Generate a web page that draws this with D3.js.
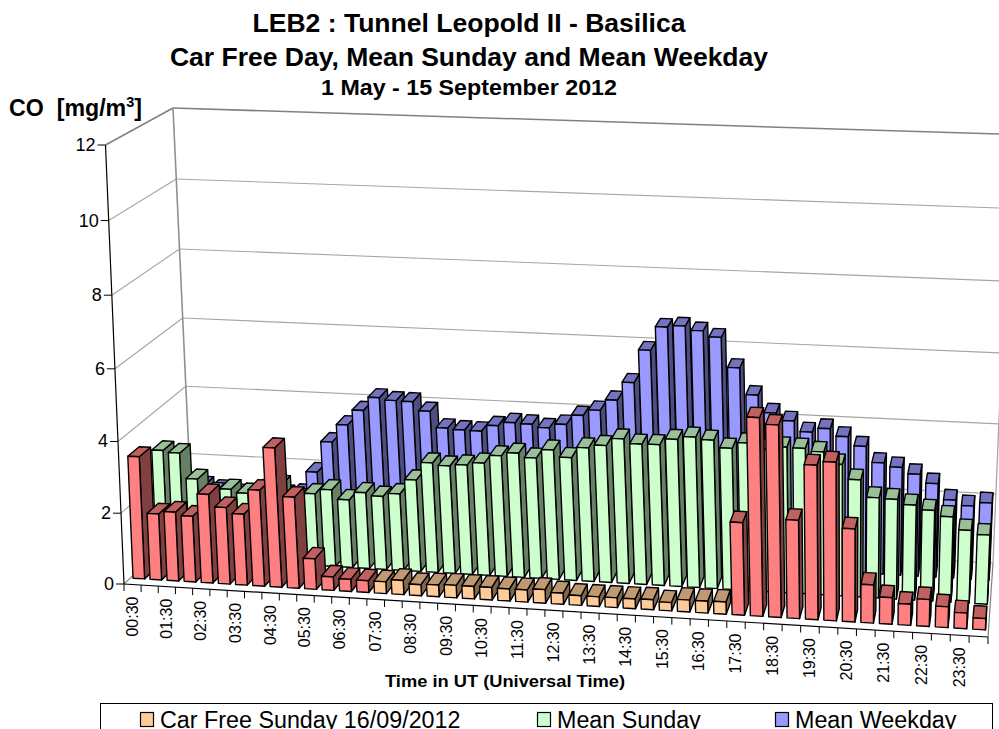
<!DOCTYPE html>
<html><head><meta charset="utf-8">
<style>html,body{margin:0;padding:0;background:#fff;overflow:hidden}svg{display:block}text{font-family:"Liberation Sans",Arial,sans-serif;fill:#000}</style>
<script src="https://cdn.jsdelivr.net/npm/d3@7"></script></head><body>
<svg id="c" width="999" height="729"></svg>
<script>
const times = ["00:30","01:00","01:30","02:00","02:30","03:00","03:30","04:00","04:30","05:00","05:30","06:00","06:30","07:00","07:30","08:00","08:30","09:00","09:30","10:00","10:30","11:00","11:30","12:00","12:30","13:00","13:30","14:00","14:30","15:00","15:30","16:00","16:30","17:00","17:30","18:00","18:30","19:00","19:30","20:00","20:30","21:00","21:30","22:00","22:30","23:00","23:30","24:00"];
const carFree = [3.45,1.87,1.95,1.86,2.50,2.16,2.00,2.70,3.90,2.56,0.86,0.38,0.34,0.33,0.33,0.40,0.31,0.33,0.35,0.35,0.35,0.34,0.34,0.38,0.31,0.27,0.27,0.27,0.27,0.28,0.23,0.33,0.33,0.34,2.55,5.42,5.25,2.70,4.22,4.33,2.55,1.05,0.73,0.58,0.74,0.57,0.43,0.31];
const meanSunday = [3.07,3.02,2.30,1.94,2.06,1.97,2.10,2.25,1.90,2.06,2.20,1.94,2.17,2.09,2.19,2.61,3.12,3.06,3.11,3.19,3.42,3.52,3.41,3.66,3.47,3.77,3.86,4.07,3.95,3.96,4.13,4.22,4.16,3.96,4.13,3.98,4.07,4.06,3.99,3.67,3.27,2.80,2.78,2.65,2.53,2.38,2.03,1.93];
const meanWeekday = [1.60,1.50,1.42,1.32,1.32,1.32,1.37,1.42,2.08,2.98,3.50,3.94,4.33,4.27,4.26,4.01,3.55,3.52,3.51,3.69,3.80,3.78,3.70,3.82,4.10,4.27,4.58,5.10,6.03,6.70,6.75,6.64,6.48,5.65,4.91,4.43,4.23,3.94,4.06,3.86,3.61,3.17,3.07,2.90,2.66,2.22,2.08,2.19];
const orangeFrom = "07:30", orangeTo = "17:00";
const yTicks = [0,2,4,6,8,10,12];
const xLabels = times.filter((d,i)=>i%2===0);
const titles = ["LEB2 : Tunnel Leopold II - Basilica","Car Free Day, Mean Sunday and Mean Weekday","1 May - 15 September 2012"];
const legendItems = ["Car Free Sunday 16/09/2012","Mean Sunday","Mean Weekday"];
const rowsOrder = ["front","mid","back"];

const pal = {
 red:["#FF8080","#804040","#C06060"], orange:["#FFCC99","#80664D","#C09973"],
 green:["#CCFFCC","#668066","#99C099"], blue:["#9999FF","#4D4D80","#7373C0"]
};

// camera: corners of the 3D box as seen on the page (front-left, front-right, back-right, back-left)
const floorQuad=[[124,584],[988,637],[993,563],[192,520]];
const topQuad=[[105.5,145],[1004,181],[1011,134.5],[173,108]];
function homography(q){
 const [[x0,y0],[x1,y1],[x2,y2],[x3,y3]]=q;
 const dx1=x1-x2,dx2=x3-x2,sx=x0-x1+x2-x3,dy1=y1-y2,dy2=y3-y2,sy=y0-y1+y2-y3;
 const den=dx1*dy2-dx2*dy1,g=(sx*dy2-dx2*sy)/den,h=(dx1*sy-sx*dy1)/den;
 const a=x1-x0+g*x1,b=x3-x0+h*x3,d=y1-y0+g*y1,e=y3-y0+h*y3;
 return (u,v)=>{const w=g*u+h*v+1;return[(a*u+b*v+x0)/w,(d*u+e*v+y0)/w];};
}
const hF=homography(floorQuad),hT=homography(topQuad);
const valueScale=d3.scaleLinear().domain([0,12]).range([0,1]);
function P(u0,v,val){
 const u=u0+.042*u0*(1-u0);
 const t0=valueScale(val),t=t0/(t0+(1-t0)*1.04);
 const a=hF(u,v),b=hT(u,v);
 return[a[0]+(b[0]-a[0])*t,a[1]+(b[1]-a[1])*t];
}
const xBand=d3.scaleBand().domain(times).range([0,1]).paddingInner(.32).paddingOuter(.16);
const zBand=d3.scaleBand().domain(rowsOrder).range([0,1]).paddingInner(.52).paddingOuter(.26);
const step=xBand.step();

const svg=d3.select("#c");
const gGrid=svg.append("g"),gBars=svg.append("g"),gAxis=svg.append("g"),gText=svg.append("g");
const line=(g,a,b,c,w)=>g.append("line").attr("x1",a[0]).attr("y1",a[1]).attr("x2",b[0]).attr("y2",b[1]).attr("stroke",c).attr("stroke-width",w);

// walls
yTicks.forEach(t=>{
 const outer=t===12;
 const col=outer?"#808080":"#a6a6a6",w=outer?1.5:1.1;
 line(gGrid,P(0,0,t),P(0,1,t),t===0?"#909090":col,w);
 line(gGrid,P(0,1,t),P(1,1,t),col,w);
});
line(gGrid,P(0,1,0),P(0,1,12),"#909090",1.6);
line(gGrid,P(1,1,0),P(1,1,12),"#a0a0a0",1.2);
line(gGrid,P(1,0,0),P(1,1,0),"#808080",1.2);

// bars
function bar(g,i,row,val,c){
 const u0=xBand(times[i]),u1=u0+xBand.bandwidth(),v0=zBand(row),v1=v0+zBand.bandwidth();
 const poly=(pts,fill)=>g.append("polygon").attr("points",pts.map(p=>p.join(",")).join(" ")).attr("fill",fill).attr("stroke","#000").attr("stroke-width",1.4).attr("stroke-linejoin","round");
 poly([P(u1,v0,0),P(u1,v1,0),P(u1,v1,val),P(u1,v0,val)],c[1]);
 poly([P(u0,v0,val),P(u1,v0,val),P(u1,v1,val),P(u0,v1,val)],c[2]);
 poly([P(u0,v0,0),P(u1,v0,0),P(u1,v0,val),P(u0,v0,val)],c[0]);
}
const iFrom=times.indexOf(orangeFrom),iTo=times.indexOf(orangeTo);
times.forEach((t,i)=>bar(gBars,i,"back",meanWeekday[i],pal.blue));
times.forEach((t,i)=>bar(gBars,i,"mid",meanSunday[i],pal.green));
times.forEach((t,i)=>bar(gBars,i,"front",carFree[i],(i>=iFrom&&i<=iTo)?pal.orange:pal.red));

// axes
line(gAxis,P(0,0,0),P(0,0,12),"#000",1.2);
line(gAxis,P(0,0,0),P(1,0,0),"#000",1.2);
yTicks.forEach(t=>{
 const p=P(0,0,t);
 line(gAxis,[p[0]-8,p[1]],p,"#000",1);
 gText.append("text").attr("x",p[0]-10).attr("y",p[1]+6).attr("text-anchor","end").attr("font-size",18).text(t);
});
d3.range(times.length+1).forEach(k=>{
 const p=P(k*step,0,0);
 line(gAxis,p,[p[0],p[1]+7],"#000",1);
});
xLabels.forEach(l=>{
 const u=xBand(l)+xBand.bandwidth()/2,p=P(u,0,0);
 gText.append("text").attr("transform",`translate(${p[0]+5},${p[1]+12}) rotate(-90)`).attr("text-anchor","end").attr("font-size",16).text(l);
});

// titles
const T=(x,y,s,w,txt,a,len)=>{const n=gText.append("text").attr("x",x).attr("y",y).attr("font-size",s).attr("font-weight",w).attr("text-anchor",a||"middle").text(txt);
 if(len)n.attr("textLength",len).attr("lengthAdjust","spacingAndGlyphs");return n;};
T(469,32,25,"bold",titles[0],null,433);T(469,66,25,"bold",titles[1],null,598);T(469,95,21.5,"bold",titles[2],null,296);
const co=T(9,116,23.2,"bold","CO  [mg/m","start");
co.attr("xml:space","preserve");
co.append("tspan").attr("dy",-9).attr("font-size",14.5).text("3");
co.append("tspan").attr("dy",9).text("]");
T(505,687,17,"bold","Time in UT (Universal Time)",null,240);

// legend
gText.append("rect").attr("x",100.5).attr("y",703.5).attr("width",892).attr("height",40).attr("fill","none").attr("stroke","#000").attr("stroke-width",1);
[[140,pal.orange[0]],[537,pal.green[0]],[775,pal.blue[0]]].forEach((d,i)=>{
 gText.append("rect").attr("x",d[0]+.5).attr("y",712.5).attr("width",13).attr("height",14).attr("fill",d[1]).attr("stroke","#000").attr("stroke-width",1.2);
 T(d[0]+20,727.5,23.3,"normal",legendItems[i],"start");
});
</script></body></html>
